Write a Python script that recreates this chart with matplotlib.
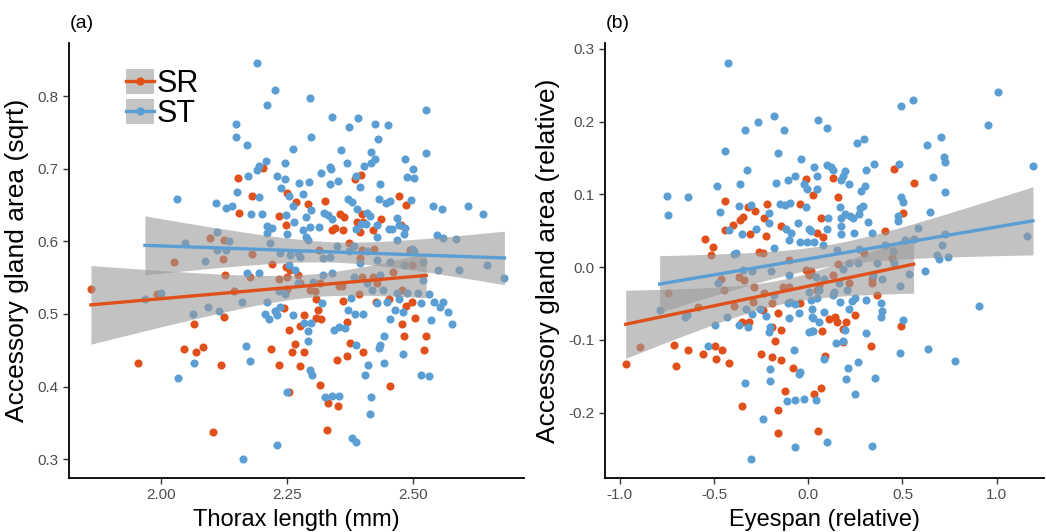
import matplotlib
matplotlib.use("Agg")
import matplotlib.pyplot as plt
from matplotlib.lines import Line2D
from matplotlib.patches import Patch
import numpy as np

# Panel (a): thorax length vs sqrt accessory gland area
thorax_sr = [2.202, 2.152, 2.181, 2.250, 2.268, 2.155, 2.234, 2.247, 2.214, 2.097, 2.124,
             2.396, 2.384, 2.292, 2.325, 2.472, 2.486, 2.354, 2.363, 2.399, 2.436, 2.388,
             2.400, 2.345, 2.340, 2.360, 2.395, 2.421, 2.476, 2.372, 2.314, 2.423,
             1.861, 2.026, 2.122, 2.181, 2.221, 2.126, 2.177, 2.247, 2.256, 2.249, 2.234,
             1.991, 2.145, 2.249, 2.244, 2.125, 2.065, 2.254, 2.276, 2.046, 2.070, 2.083,
             2.219, 2.259, 2.266, 1.954, 2.118, 2.233, 2.276, 2.253, 2.104,
             2.284, 2.307, 2.311, 2.307, 2.317, 2.284, 2.361, 2.369, 2.374, 2.400, 2.368,
             2.349, 2.393, 2.426, 2.453, 2.485, 2.498, 2.503, 2.478, 2.482, 2.526, 2.522,
             2.454, 2.315, 2.332, 2.351, 2.330,
             2.272, 2.276, 2.296, 2.306, 2.315, 2.352, 2.359, 2.395, 2.398, 2.421, 2.428,
             2.461, 2.478, 2.497, 2.398, 2.494]
acc_sqrt_sr = [0.701, 0.687, 0.662, 0.667, 0.654, 0.639, 0.635, 0.622, 0.619, 0.604, 0.602,
               0.691, 0.686, 0.651, 0.656, 0.663, 0.650, 0.638, 0.634, 0.637, 0.631, 0.626,
               0.626, 0.619, 0.616, 0.615, 0.613, 0.616, 0.623, 0.598, 0.588, 0.590,
               0.535, 0.571, 0.576, 0.583, 0.569, 0.553, 0.551, 0.564, 0.560, 0.551, 0.548,
               0.528, 0.531, 0.535, 0.508, 0.496, 0.486, 0.478, 0.483, 0.451, 0.448, 0.455,
               0.451, 0.448, 0.459, 0.433, 0.430, 0.429, 0.428, 0.393, 0.337,
               0.498, 0.520, 0.505, 0.494, 0.493, 0.447, 0.518, 0.489, 0.460, 0.448, 0.442,
               0.437, 0.527, 0.517, 0.521, 0.511, 0.517, 0.495, 0.486, 0.470, 0.470, 0.450,
               0.401, 0.402, 0.377, 0.373, 0.340,
               0.554, 0.542, 0.533, 0.531, 0.542, 0.538, 0.538, 0.577, 0.551, 0.551, 0.542,
               0.558, 0.533, 0.567, 0.588, 0.588]

thorax_st = [2.190, 2.226, 2.211, 2.148, 2.149, 2.170, 2.262, 2.208, 2.245, 2.194, 2.190,
             2.173, 2.230, 2.245, 2.274, 2.238, 2.150, 2.194, 2.031, 2.253, 2.109, 2.140,
             2.128, 2.261, 2.178, 2.200, 2.247, 2.264, 2.211, 2.220, 2.210, 2.250, 2.111,
             2.047, 2.134, 2.216,
             2.295, 2.526, 2.340, 2.391, 2.372, 2.424, 2.450, 2.298, 2.431, 2.357, 2.416,
             2.526, 2.369, 2.424, 2.416, 2.484, 2.403, 2.336, 2.337, 2.499, 2.317, 2.488,
             2.502, 2.294, 2.335, 2.351, 2.386, 2.395, 2.435, 2.282, 2.371, 2.379, 2.432,
             2.446, 2.454, 2.496, 2.540, 2.558, 2.608, 2.638, 2.298, 2.323, 2.331, 2.339,
             2.389, 2.408, 2.415, 2.288, 2.296, 2.314, 2.397, 2.407, 2.429, 2.468, 2.471,
             2.484, 2.452, 2.459, 2.387, 2.282, 2.288, 2.291, 2.482, 2.428, 2.468, 2.547,
             2.559, 2.585, 2.349, 2.383,
             2.236, 2.256, 2.276, 2.322, 2.335, 2.372, 2.395, 2.408, 2.428, 2.454, 2.481,
             2.501, 2.520, 2.253, 2.266, 2.302, 2.322, 2.339, 2.382, 2.435, 2.408, 2.418,
             2.441, 2.468, 2.487, 2.510, 2.520, 2.128, 2.111, 2.271, 2.498,
             2.550, 2.591, 2.646, 2.681,
             2.087, 2.170, 2.195, 1.968, 2.000, 2.160, 2.210, 2.234, 2.245, 2.271, 2.094,
             2.114, 2.063, 2.206, 2.215, 2.226, 2.230, 2.236, 2.261, 2.169, 2.177, 2.066,
             2.034, 2.249, 2.230, 2.163,
             2.291, 2.292, 2.284, 2.297, 2.320, 2.377, 2.370, 2.385, 2.401, 2.344, 2.352,
             2.365, 2.386, 2.434, 2.433, 2.443, 2.455, 2.465, 2.479, 2.471, 2.448, 2.429,
             2.479, 2.443, 2.411, 2.405, 2.296, 2.299, 2.325, 2.340, 2.353, 2.417, 2.415,
             2.378, 2.387, 2.515, 2.531, 2.516, 2.532, 2.541, 2.560, 2.554, 2.569, 2.536,
             2.577]
acc_sqrt_st = [0.846, 0.808, 0.788, 0.761, 0.743, 0.732, 0.727, 0.711, 0.708, 0.704, 0.698,
               0.690, 0.690, 0.686, 0.680, 0.673, 0.668, 0.661, 0.658, 0.662, 0.653, 0.649,
               0.646, 0.648, 0.638, 0.637, 0.636, 0.626, 0.621, 0.619, 0.611, 0.610, 0.613,
               0.598, 0.600, 0.597,
               0.798, 0.781, 0.771, 0.770, 0.757, 0.762, 0.760, 0.744, 0.741, 0.726, 0.723,
               0.722, 0.708, 0.713, 0.708, 0.714, 0.704, 0.702, 0.699, 0.699, 0.694, 0.688,
               0.687, 0.682, 0.679, 0.683, 0.690, 0.675, 0.679, 0.665, 0.658, 0.654, 0.658,
               0.653, 0.655, 0.657, 0.649, 0.645, 0.648, 0.637, 0.643, 0.639, 0.636, 0.631,
               0.644, 0.639, 0.635, 0.634, 0.620, 0.620, 0.624, 0.624, 0.622, 0.632, 0.622,
               0.618, 0.617, 0.617, 0.617, 0.615, 0.606, 0.602, 0.610, 0.606, 0.602, 0.609,
               0.604, 0.603, 0.594, 0.594,
               0.584, 0.581, 0.579, 0.577, 0.579, 0.586, 0.570, 0.586, 0.574, 0.572, 0.567,
               0.586, 0.572, 0.567, 0.561, 0.544, 0.554, 0.556, 0.551, 0.554, 0.542, 0.533,
               0.533, 0.529, 0.529, 0.529, 0.547, 0.588, 0.588, 0.584, 0.589,
               0.561, 0.560, 0.568, 0.549,
               0.573, 0.556, 0.556, 0.520, 0.529, 0.516, 0.516, 0.532, 0.528, 0.543, 0.510,
               0.504, 0.500, 0.500, 0.493, 0.504, 0.498, 0.509, 0.499, 0.456, 0.435, 0.433,
               0.412, 0.392, 0.319, 0.300,
               0.477, 0.463, 0.487, 0.488, 0.515, 0.522, 0.506, 0.500, 0.500, 0.478, 0.482,
               0.481, 0.457, 0.457, 0.453, 0.469, 0.493, 0.505, 0.503, 0.520, 0.516, 0.515,
               0.445, 0.432, 0.430, 0.416, 0.423, 0.416, 0.386, 0.387, 0.387, 0.386, 0.362,
               0.329, 0.323, 0.416, 0.414, 0.515, 0.528, 0.517, 0.517, 0.509, 0.503, 0.491,
               0.486]

# Panel (b): relative eyespan vs relative accessory gland area
eyespan_sr = [-0.012, 0.026, -0.439, -0.217, -0.044, -0.321, -0.280, -0.234, -0.344, -0.361,
              -0.401, -0.439, -0.143, -0.309, -0.222, 0.046, -0.549, -0.503, -0.513, -0.240,
              0.455, 0.129, 0.559, 0.160, 0.503, 0.070, 0.406, 0.079, 0.296, 0.446,
              -0.968, -0.894, -0.711, -0.702, -0.639, -0.556, -0.490, -0.496, -0.455, -0.422,
              -0.742, -0.582, -0.462, -0.448, -0.392, -0.353, -0.314, -0.351, -0.295, -0.287,
              -0.365, -0.339, -0.252, -0.240, -0.192, -0.176, -0.192, -0.192, -0.159, -0.143,
              -0.143, -0.162, -0.160, -0.122, -0.079, -0.044, 0.033, 0.054,
              -0.101, -0.012, 0.005, -0.136, -0.101, -0.233, -0.259,
              0.363, 0.247, 0.199, 0.152, 0.143, 0.111, 0.182, 0.072, 0.187, 0.332,
              0.492, 0.090, 0.070,
              0.160, 0.340, 0.340, 0.217, 0.058, 0.049, 0.129, 0.014]
acc_rel_sr = [0.121, 0.099, 0.091, 0.087, 0.087, 0.083, 0.077, 0.068, 0.069, 0.065,
              0.058, 0.051, 0.057, 0.046, 0.043, 0.047, 0.038, 0.028, 0.016, 0.020,
              0.135, 0.122, 0.116, 0.097, 0.075, 0.067, 0.050, 0.042, 0.019, 0.012,
              -0.133, -0.110, -0.107, -0.136, -0.114, -0.120, -0.126, -0.109, -0.114, -0.132,
              -0.035, -0.055, -0.016, -0.032, -0.053, -0.076, -0.076, -0.191, -0.048, -0.028,
              -0.013, -0.018, -0.119, -0.059, -0.050, -0.101, -0.123, -0.082, -0.063, -0.086,
              -0.128, -0.196, -0.228, -0.170, -0.139, -0.050, -0.174, -0.226,
              0.010, -0.004, -0.011, -0.027, -0.027, -0.036, 0.021,
              -0.039, -0.066, -0.076, -0.076, -0.069, -0.072, -0.085, -0.088, -0.103, -0.108,
              -0.081, -0.122, -0.166,
              0.004, -0.016, -0.022, -0.022, -0.025, -0.032, -0.011, -0.006]

eyespan_st = [-0.425, -0.184, -0.265, -0.337, -0.131, 0.051, -0.439, -0.159, -0.039, -0.323,
              0.030, -0.483, -0.363, -0.171, -0.106, -0.072, -0.021, 0.044, -0.009, -0.748,
              -0.639, -0.742, -0.466, -0.369, -0.303, -0.210, -0.152, -0.122, -0.095, -0.011,
              -0.210, -0.422, -0.351, -0.277, -0.116, -0.090, -0.101, -0.053, 0.004, -0.044,
              -0.004, -0.180, -0.395,
              1.004, 0.557, 0.492, 0.101, 0.954, 0.296, 0.259, 0.704, 0.630, 0.720, 0.723,
              0.102, 0.122, 0.129, 0.349, 0.480, 0.309, 0.196, 0.182, 0.175, 0.215, 0.302,
              0.282, 0.049, 0.661, 0.727, 1.192, 0.492, 0.501, 0.171, 0.275, 0.291, 0.270,
              0.197, 0.219, 0.236, 0.175, 0.106, 0.646, 0.475, 0.478, 0.317, 0.175, 0.175,
              0.099, 0.243, 0.337, 0.014, 0.030, 0.078, 0.582, 0.723, 0.709, 1.159, 0.513,
              0.559, 0.407, 0.270, 0.153, 0.451, 0.683, 0.742,
              -0.788, -0.656, -0.644, -0.497, -0.430, -0.529, -0.367, -0.319, -0.332, -0.298,
              -0.258, -0.224, -0.201, -0.206, -0.337, -0.240, -0.305, -0.201, -0.205, -0.115,
              -0.069, -0.023, -0.069, -0.076, -0.051, -0.044, 0.041, -0.101, -0.048, 0.005,
              0.020, 0.020, 0.014, -0.109, -0.095, -0.072, 0.058, 0.058, -0.383, -0.348,
              -0.480, -0.300, -0.197, -0.180, -0.101,
              0.693, 0.619, 0.908, 0.534, 0.487, 0.385, 0.390, 0.385, 0.504, 0.309, 0.307,
              0.247, 0.231, 0.166, 0.217, 0.134, 0.085, 0.021, 0.023, 0.023, 0.194, 0.147,
              0.185, 0.488, 0.637, 0.779, 0.263, 0.213, 0.086, 0.201, 0.354, 0.247, 0.097,
              0.337, 0.046,
              0.217, 0.265, 0.182, 0.085, 0.041, 0.164, 0.138, 0.367, 0.393, 0.455, 0.346,
              0.005, 0.208]
acc_rel_st = [0.281, 0.208, 0.199, 0.188, 0.189, 0.202, 0.160, 0.157, 0.149, 0.134,
              0.138, 0.112, 0.114, 0.115, 0.120, 0.125, 0.114, 0.125, 0.107, 0.098,
              0.097, 0.071, 0.076, 0.084, 0.085, 0.074, 0.087, 0.086, 0.088, 0.083,
              0.060, 0.051, 0.045, 0.052, 0.053, 0.047, 0.037, 0.061, 0.053, 0.035,
              0.035, 0.026, 0.018,
              0.241, 0.230, 0.222, 0.191, 0.196, 0.176, 0.170, 0.179, 0.168, 0.152, 0.145,
              0.141, 0.138, 0.133, 0.142, 0.142, 0.133, 0.132, 0.125, 0.120, 0.114, 0.111,
              0.105, 0.108, 0.124, 0.103, 0.139, 0.096, 0.089, 0.082, 0.081, 0.084, 0.073,
              0.073, 0.070, 0.068, 0.068, 0.067, 0.076, 0.070, 0.064, 0.062, 0.056, 0.046,
              0.052, 0.047, 0.047, 0.050, 0.035, 0.031, 0.054, 0.045, 0.031, 0.043, 0.037,
              0.038, 0.031, 0.025, 0.024, 0.022, 0.016, 0.014,
              -0.059, -0.068, -0.066, -0.080, -0.068, -0.109, -0.080, -0.083, -0.057, -0.064,
              -0.058, -0.067, -0.082, -0.089, -0.159, -0.209, -0.264, -0.140, -0.157, -0.184,
              -0.183, -0.182, -0.248, -0.114, -0.147, -0.144, -0.183, -0.070, -0.063, -0.089,
              -0.088, -0.069, -0.045, -0.050, -0.048, -0.051, -0.075, -0.032, 0.019, -0.004,
              -0.022, -0.005, -0.006, -0.038, -0.011,
              0.011, -0.006, -0.053, -0.009, -0.026, -0.049, -0.061, -0.069, -0.073, -0.091,
              -0.045, -0.043, -0.046, -0.048, -0.058, -0.039, -0.062, -0.057, -0.070, -0.088,
              -0.087, -0.105, -0.102, -0.118, -0.113, -0.129, -0.130, -0.139, -0.127, -0.154,
              -0.152, -0.174, -0.240, -0.246, -0.043,
              0.005, 0.006, -0.002, -0.016, -0.013, -0.022, -0.034, 0.005, -0.016, 0.005,
              -0.011, -0.034, -0.032]

red = "#E0501A"
blue = "#5A9ED4"
band = "#9A9A9A"

plt.rcParams["font.family"] = ["Liberation Sans", "DejaVu Sans"]
plt.rcParams["axes.unicode_minus"] = False


def smooth(ax, x, y, color):
    # linear fit with 95% confidence band, like geom_smooth(method="lm")
    x = np.asarray(x)
    y = np.asarray(y)
    n = len(x)
    b1, b0 = np.polyfit(x, y, 1)
    s = np.sqrt(np.sum((y - (b0 + b1 * x)) ** 2) / (n - 2))
    xs = np.linspace(x.min(), x.max(), 100)
    se = s * np.sqrt(1 / n + (xs - x.mean()) ** 2 / np.sum((x - x.mean()) ** 2))
    fit = b0 + b1 * xs
    ax.fill_between(xs, fit - 1.97 * se, fit + 1.97 * se, color=band, alpha=0.6, lw=0, zorder=3)
    ax.plot(xs, fit, color=color, lw=2.4, zorder=4)


def style(ax, xlabel, ylabel):
    for side in ["top", "right"]:
        ax.spines[side].set_visible(False)
    for side in ["left", "bottom"]:
        ax.spines[side].set_linewidth(1.3)
    ax.tick_params(direction="out", length=4, width=1, color="#333333",
                   labelcolor="#4D4D4D", labelsize=11)
    ax.set_xlabel(xlabel, fontsize=17, labelpad=5)
    ax.set_ylabel(ylabel, fontsize=19, labelpad=6)


fig = plt.figure(figsize=(10.46, 5.32), dpi=100)
ax1 = fig.add_axes([0.066, 0.1015, 0.435, 0.8175])
ax2 = fig.add_axes([0.578, 0.1015, 0.42, 0.8175])

pt = dict(s=34, linewidths=0, zorder=2)
ax1.scatter(thorax_sr, acc_sqrt_sr, color=red, **pt)
ax1.scatter(thorax_st, acc_sqrt_st, color=blue, **pt)
smooth(ax1, thorax_sr, acc_sqrt_sr, red)
smooth(ax1, thorax_st, acc_sqrt_st, blue)
ax1.set_xlim(1.8175, 2.72)
ax1.set_ylim(0.274, 0.873)
ax1.set_xticks([2.00, 2.25, 2.50])
ax1.set_xticklabels(["2.00", "2.25", "2.50"])
ax1.set_yticks([0.3, 0.4, 0.5, 0.6, 0.7, 0.8])
style(ax1, "Thorax length (mm)", "Accessory gland area (sqrt)")

ax2.scatter(eyespan_sr, acc_rel_sr, color=red, **pt)
ax2.scatter(eyespan_st, acc_rel_st, color=blue, **pt)
smooth(ax2, eyespan_sr, acc_rel_sr, red)
smooth(ax2, eyespan_st, acc_rel_st, blue)
ax2.set_xlim(-1.08, 1.25)
ax2.set_ylim(-0.29, 0.308)
ax2.set_xticks([-1.0, -0.5, 0.0, 0.5, 1.0])
ax2.set_yticks([-0.2, -0.1, 0.0, 0.1, 0.2, 0.3])
style(ax2, "Eyespan (relative)", "Accessory gland area (relative)")

handles = [(Patch(facecolor="#C4C4C4", edgecolor="none"),
            Line2D([], [], color=red, lw=2.4, marker="o", markersize=5)),
           (Patch(facecolor="#C4C4C4", edgecolor="none"),
            Line2D([], [], color=blue, lw=2.4, marker="o", markersize=5))]
ax1.legend(handles, ["SR", "ST"], loc="upper left", bbox_to_anchor=(0.092, 0.975),
           frameon=False, prop={"size": 22}, borderpad=0,
           handlelength=0.9, handleheight=0.85, handletextpad=0.08, labelspacing=0.0)

fig.text(0.067, 0.955, "(a)", fontsize=14, va="center")
fig.text(0.579, 0.955, "(b)", fontsize=14, va="center")

fig.savefig("out.png", dpi=100)
